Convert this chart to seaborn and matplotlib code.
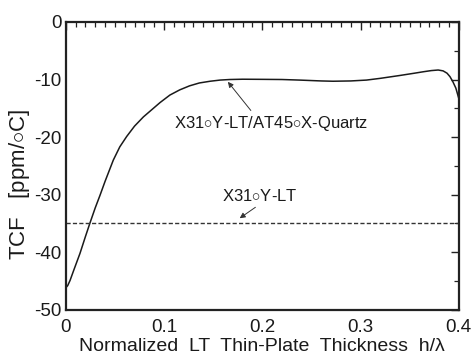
import matplotlib
matplotlib.use("Agg")
import matplotlib.pyplot as plt
from matplotlib.ticker import MultipleLocator
import pandas as pd
import seaborn as sns

# TCF of the bonded X31°Y-LT / AT45°X-Quartz plate vs. normalized LT thickness
thickness = [0.000, 0.002, 0.0044, 0.008, 0.0145, 0.020, 0.0247, 0.030,
             0.0349, 0.040, 0.0484, 0.055, 0.062, 0.070, 0.079, 0.0858,
             0.096, 0.106, 0.116, 0.126, 0.136, 0.147, 0.157, 0.167, 0.180,
             0.198, 0.220, 0.238, 0.260, 0.272, 0.290, 0.306, 0.320, 0.340,
             0.355, 0.364, 0.372, 0.379, 0.384, 0.388, 0.391, 0.394, 0.397,
             0.399, 0.400]
tcf_bonded = [-46.2, -45.8, -44.9, -43.2, -40.2, -37.3, -34.9, -32.3,
              -30.1, -27.7, -24.0, -21.7, -19.9, -18.1, -16.5, -15.5,
              -14.0, -12.7, -11.8, -11.1, -10.6, -10.3, -10.1, -10.0, -9.95,
              -9.97, -10.0, -10.1, -10.25, -10.3, -10.25, -10.1, -9.8, -9.3,
              -8.9, -8.65, -8.45, -8.35, -8.5, -8.9, -9.5, -10.4, -11.5,
              -12.7, -13.3]

# TCF of the X31°Y-LT alone
tcf_lt_only = -35.0
x_range = [0.0, 0.4]

label_bonded = r"X31${\circ}$Y-LT/AT45${\circ}$X-Quartz"
label_lt = r"X31${\circ}$Y-LT"
xlabel = "Normalized  LT  Thin-Plate  Thickness  h/\u03bb"
ylabel = r"TCF   [ppm/${\circ}$C]"

sns.set_style("white")
plt.rcParams["font.family"] = ["Liberation Sans", "DejaVu Sans"]
plt.rcParams["mathtext.fontset"] = "custom"
plt.rcParams["mathtext.rm"] = "Liberation Sans"
plt.rcParams["mathtext.it"] = "Liberation Sans"

fig = plt.figure(figsize=(4.73, 3.54), dpi=100)
ax = fig.add_axes([0.139, 0.125, 0.831, 0.813])

df = pd.DataFrame({"h": thickness, "tcf": tcf_bonded})
sns.lineplot(data=df, x="h", y="tcf", ax=ax, color="#1a1a1a", linewidth=1.1,
             sort=True, estimator=None)
df_lt = pd.DataFrame({"h": x_range, "tcf": [tcf_lt_only, tcf_lt_only]})
sns.lineplot(data=df_lt, x="h", y="tcf", ax=ax, color="#333333", linewidth=1.0,
             linestyle=(0, (3, 1.6)))

ax.set_xlim(0, 0.4)
ax.set_ylim(-50, 0)
ax.xaxis.set_minor_locator(MultipleLocator(0.01))
ax.yaxis.set_minor_locator(MultipleLocator(5))
ax.set_xticks([0, 0.1, 0.2, 0.3, 0.4])
ax.set_xticklabels(["0", "0.1", "0.2", "0.3", "0.4"])
ax.set_yticks([0, -10, -20, -30, -40, -50])
ax.set_yticklabels(["0", "-10", "-20", "-30", "-40", "-50"])

ax.tick_params(which="both", direction="in", top=True, right=True,
               color="#222222", labelsize=13.5, labelcolor="#1a1a1a")
ax.tick_params(which="major", length=6, width=1.0)
ax.tick_params(which="minor", length=3.5, width=0.9)
ax.tick_params(axis="x", which="major", pad=7)
ax.tick_params(axis="y", which="major", pad=3)
for s in ax.spines.values():
    s.set_linewidth(1.6)
    s.set_color("#222222")

ax.set_xlabel(xlabel, fontsize=14, color="#1a1a1a", labelpad=1)
ax.set_ylabel(ylabel, fontsize=16, color="#1a1a1a")
ax.yaxis.set_label_coords(-0.085, 0.434)

ax.annotate(label_bonded, xy=(0.165, -10.4), xytext=(0.110, -17.6),
            fontsize=12, color="#1a1a1a", va="center", ha="left",
            arrowprops=dict(arrowstyle="-|>", color="#333333", lw=0.7,
                            mutation_scale=8, shrinkA=0, shrinkB=0,
                            relpos=(0.41, 1.0)))
ax.annotate(label_lt, xy=(0.177, -34.1), xytext=(0.159, -30.3),
            fontsize=12, color="#1a1a1a", va="center", ha="left")
ax.annotate("", xy=(0.177, -34.1), xytext=(0.193, -32.2),
            arrowprops=dict(arrowstyle="-|>", color="#333333", lw=0.7,
                            mutation_scale=8, shrinkA=0, shrinkB=0))

fig.savefig("out.png", dpi=100)
